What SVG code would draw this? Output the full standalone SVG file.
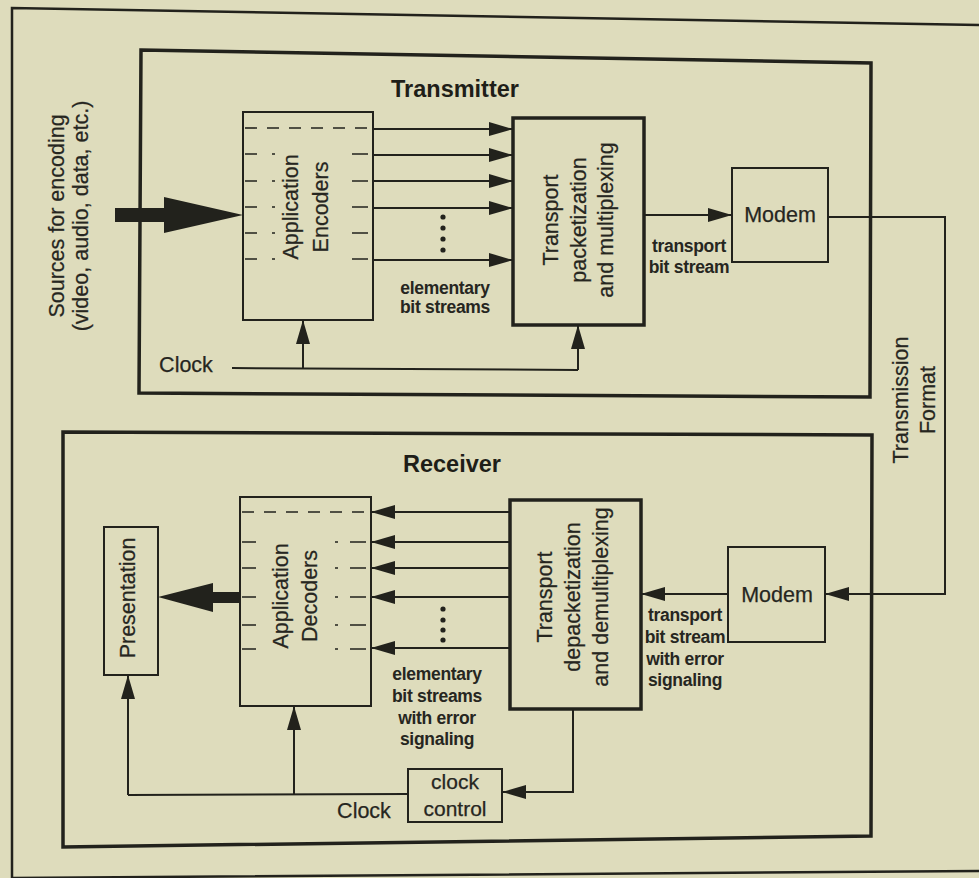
<svg xmlns="http://www.w3.org/2000/svg" width="979" height="878" viewBox="0 0 979 878">
  <style>
    .frame { fill: none; stroke: #22221c; stroke-width: 2.5; }
    .heavy { fill: none; stroke: #22221c; stroke-width: 3.5; }
    .box { fill: none; stroke: #22221c; stroke-width: 2; }
    .wire { fill: none; stroke: #22221c; stroke-width: 2; }
    .dash { fill: none; stroke: #22221c; stroke-width: 1.6; }
    .solid { fill: #22221c; stroke: none; }
    .lbl { font-family: "Liberation Sans", Arial, sans-serif; font-size: 21.5px; fill: #26261f; text-anchor: middle; stroke: #26261f; stroke-width: 0.25; }
    .title { font-family: "Liberation Sans", Arial, sans-serif; font-size: 23.5px; font-weight: bold; fill: #1e1e18; text-anchor: middle; }
    .small { font-family: "Liberation Sans", Arial, sans-serif; font-size: 17.5px; font-weight: bold; letter-spacing: -0.3px; fill: #26261f; text-anchor: middle; }
  </style>
  <defs>
    <marker id="ah" viewBox="0 0 24 14" markerWidth="24" markerHeight="14" refX="24" refY="7" orient="auto" markerUnits="userSpaceOnUse">
      <path d="M0,0 L24,7 L0,14 z" fill="#22221c"/>
    </marker>
  </defs>

  <rect width="979" height="878" fill="#dedcbc"/>

  <!-- page frame -->
  <path class="frame" d="M12,878 L12,8 L979,25 M12,878 L979,871"/>

  <!-- transmitter side -->
  <g id="transmitter">
    <path class="heavy" d="M141,50 L871,63 L870,397 L139,393 Z"/>
    <text class="title" x="455" y="97">Transmitter</text>
  </g>

  <g id="sources">
    <text class="lbl" transform="translate(64,216) rotate(-90)">Sources for encoding</text>
    <text class="lbl" transform="translate(88,216) rotate(-90)">(video, audio, data, etc.)</text>
  </g>

  <g id="app-encoders">
    <rect class="box" x="243" y="112" width="130" height="208"/>
    <path class="dash" stroke-dasharray="12 10" d="M245,128 H371"/>
    <path class="dash" d="M245,154 H257 M272,154 H275 M352,154 H368
                          M245,181 H257 M272,181 H275 M352,181 H368
                          M245,207 H257 M272,207 H275 M352,207 H368
                          M245,233 H257 M272,233 H275 M352,233 H368
                          M245,259 H257 M272,259 H275 M352,259 H368"/>
    <text class="lbl" transform="translate(298,207) rotate(-90)">Application</text>
    <text class="lbl" transform="translate(328,207) rotate(-90)">Encoders</text>
  </g>

  <g id="tx-transport">
    <rect class="heavy" x="513" y="118" width="131" height="207"/>
    <text class="lbl" transform="translate(558,220) rotate(-90)">Transport</text>
    <text class="lbl" transform="translate(586,220) rotate(-90)">packetization</text>
    <text class="lbl" transform="translate(613,220) rotate(-90)">and multiplexing</text>
  </g>

  <g id="tx-modem">
    <rect class="box" x="732" y="168" width="96" height="94"/>
    <text class="lbl" x="780" y="222">Modem</text>
  </g>

  <!-- receiver side -->
  <g id="receiver">
    <path class="heavy" d="M63,432 L872,435 L871,836 L63,847 Z"/>
    <text class="title" x="452" y="472">Receiver</text>
  </g>

  <g id="presentation">
    <rect class="box" x="104" y="527" width="54" height="148"/>
    <text class="lbl" transform="translate(135,598) rotate(-90)">Presentation</text>
  </g>

  <g id="app-decoders">
    <rect class="box" x="240" y="497" width="131" height="209"/>
    <path class="dash" stroke-dasharray="12 10" d="M242,512 H369"/>
    <path class="dash" d="M242,542 H256 M335,542 H338 M350,542 H366
                          M242,568 H256 M335,568 H338 M350,568 H366
                          M242,597 H256 M335,597 H338 M350,597 H366
                          M242,625 H256 M335,625 H338 M350,625 H366
                          M242,649 H256 M335,649 H338 M350,649 H366"/>
    <text class="lbl" transform="translate(288,596) rotate(-90)">Application</text>
    <text class="lbl" transform="translate(317,596) rotate(-90)">Decoders</text>
  </g>

  <g id="rx-transport">
    <rect class="heavy" x="510" y="500" width="131" height="209"/>
    <text class="lbl" transform="translate(552,597) rotate(-90)">Transport</text>
    <text class="lbl" transform="translate(580,597) rotate(-90)">depacketization</text>
    <text class="lbl" transform="translate(608,597) rotate(-90)">and demultiplexing</text>
  </g>

  <g id="rx-modem">
    <rect class="box" x="728" y="547" width="97" height="95"/>
    <text class="lbl" x="777" y="602">Modem</text>
  </g>

  <g id="clock-control">
    <rect class="box" x="408" y="769" width="94" height="53"/>
    <text class="lbl" x="455" y="789" style="font-size:21px">clock</text>
    <text class="lbl" x="455" y="816" style="font-size:21px">control</text>
  </g>

  <!-- connectors -->
  <g id="connectors">
    <!-- source input -->
    <path class="solid" d="M115,208 H164 V197 L243,215 L164,233 V222 H115 Z"/>
    <!-- elementary streams out of the encoders -->
    <path class="wire" marker-end="url(#ah)" d="M373,129 H513"/>
    <path class="wire" marker-end="url(#ah)" d="M373,155 H513"/>
    <path class="wire" marker-end="url(#ah)" d="M373,181 H513"/>
    <path class="wire" marker-end="url(#ah)" d="M373,208 H513"/>
    <path class="wire" marker-end="url(#ah)" d="M373,260 H513"/>
    <g class="solid">
      <circle cx="443" cy="217" r="2.6"/><circle cx="443" cy="228" r="2.6"/>
      <circle cx="443" cy="239" r="2.6"/><circle cx="443" cy="250" r="2.6"/>
    </g>
    <!-- transport stream to modem -->
    <path class="wire" marker-end="url(#ah)" d="M644,215 H732"/>
    <!-- transmitter clock -->
    <path class="wire" d="M232,368 L578,370"/>
    <path class="wire" marker-end="url(#ah)" d="M303,369 V320"/>
    <path class="wire" marker-end="url(#ah)" d="M578,370 V325"/>
    <!-- channel -->
    <path class="wire" marker-end="url(#ah)" d="M828,217 H945 V594 H825"/>
    <!-- modem to demultiplexer -->
    <path class="wire" marker-end="url(#ah)" d="M728,594 H641"/>
    <!-- elementary streams into the decoders -->
    <path class="wire" marker-end="url(#ah)" d="M510,512 H371"/>
    <path class="wire" marker-end="url(#ah)" d="M510,542 H371"/>
    <path class="wire" marker-end="url(#ah)" d="M510,568 H371"/>
    <path class="wire" marker-end="url(#ah)" d="M510,597 H371"/>
    <path class="wire" marker-end="url(#ah)" d="M510,648 H371"/>
    <g class="solid">
      <circle cx="443" cy="609" r="2.6"/><circle cx="443" cy="620" r="2.6"/>
      <circle cx="443" cy="630" r="2.6"/><circle cx="443" cy="640" r="2.6"/>
    </g>
    <!-- decoded output to presentation -->
    <path class="solid" d="M240,592 H213 V583 L158,597 L213,612 V603 H240 Z"/>
    <!-- receiver clock recovery -->
    <path class="wire" marker-end="url(#ah)" d="M573,709 V792 H502"/>
    <path class="wire" d="M408,794 L128,795"/>
    <path class="wire" marker-end="url(#ah)" d="M128,795 V675"/>
    <path class="wire" marker-end="url(#ah)" d="M294,795 V706"/>
  </g>

  <!-- connector labels -->
  <g id="labels">
    <text class="small" x="445" y="294">elementary</text>
    <text class="small" x="445" y="313">bit streams</text>
    <text class="small" x="689" y="252">transport</text>
    <text class="small" x="689" y="273">bit stream</text>
    <text class="lbl" x="186" y="372">Clock</text>
    <text class="lbl" transform="translate(908,400) rotate(-90)">Transmission</text>
    <text class="lbl" transform="translate(935,400) rotate(-90)">Format</text>
    <text class="small" x="685" y="621">transport</text>
    <text class="small" x="685" y="643">bit stream</text>
    <text class="small" x="685" y="665">with error</text>
    <text class="small" x="685" y="686">signaling</text>
    <text class="small" x="437" y="680">elementary</text>
    <text class="small" x="437" y="702">bit streams</text>
    <text class="small" x="437" y="724">with error</text>
    <text class="small" x="437" y="745">signaling</text>
    <text class="lbl" x="364" y="818">Clock</text>
  </g>
</svg>
